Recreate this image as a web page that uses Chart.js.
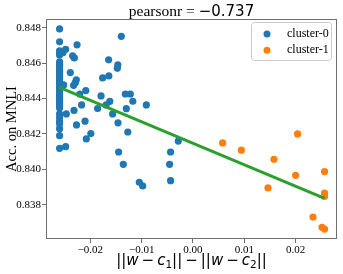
<!DOCTYPE html>
<html>
<head>
<meta charset="utf-8">
<script src="https://cdn.jsdelivr.net/npm/chart.js@4.4.1/dist/chart.umd.min.js"></script>
<style>
  body { margin: 0; background: #fff; }
  #wrap { width: 343px; height: 274px; }
</style>
</head>
<body>
<div id="wrap"><canvas id="canvas" width="343" height="274"></canvas></div>
<script>
// values
const cluster0X = [
  -0.0260, -0.0260, -0.0260, -0.0260, -0.0260, -0.0260, -0.0260, -0.0260, -0.0260, -0.0260,
  -0.0260, -0.0260, -0.0260, -0.0260, -0.0260, -0.0260, -0.0260, -0.0260, -0.0260, -0.0260,
  -0.0260, -0.0260, -0.0260, -0.0260, -0.0260, -0.0260, -0.0260, -0.0260, -0.0260, -0.0260,
  -0.0260, -0.0260, -0.0260, -0.0260, -0.0260, -0.0260, -0.0260,
  -0.02533, -0.02482, -0.02260, -0.02346, -0.02313, -0.02391, -0.01397, -0.01644, -0.01465, -0.01475,
  -0.01761, -0.01640, -0.02274, -0.02293, -0.02327, -0.02521, -0.02206, -0.02089, -0.01792, -0.01319,
  -0.01221, -0.01173, -0.00909, -0.01621, -0.01693, -0.01859, -0.02171, -0.02319, -0.01299, -0.01566,
  -0.02469, -0.02104, -0.02270, -0.01461, -0.01270, -0.01991, -0.02079, -0.02482, -0.01449, -0.01358,
  -0.01046, -0.00981, -0.00436, -0.00455, -0.00436, -0.00286
];
const cluster0Y = [
  0.84794, 0.84721, 0.84670, 0.84661, 0.84653, 0.84647, 0.84608, 0.84596, 0.84585, 0.84574,
  0.84562, 0.84551, 0.84540, 0.84528, 0.84517, 0.84506, 0.84494, 0.84483, 0.84472, 0.84460,
  0.84449, 0.84438, 0.84426, 0.84415, 0.84404, 0.84393, 0.84381, 0.84370, 0.84359, 0.84347,
  0.84313, 0.84291, 0.84270, 0.84257, 0.84230, 0.84190, 0.84119,
  0.84660, 0.84679, 0.84704, 0.84642, 0.84630, 0.84547, 0.84752, 0.84619, 0.84591, 0.84571,
  0.84517, 0.84528, 0.84506, 0.84490, 0.84475, 0.84477, 0.84426, 0.84445, 0.84415, 0.84426,
  0.84426, 0.84385, 0.84364, 0.84384, 0.84364, 0.84344, 0.84364, 0.84333, 0.84343, 0.84313,
  0.84313, 0.84272, 0.84251, 0.84263, 0.84211, 0.84202, 0.84172, 0.84128, 0.84098, 0.84028,
  0.83927, 0.83906, 0.84098, 0.84028, 0.83936, 0.84160
];
const cluster1X = [0.00578, 0.00943, 0.01580, 0.02040, 0.02001, 0.02566, 0.01463, 0.02566, 0.02566, 0.02340, 0.02516, 0.02566];
const cluster1Y = [0.84149, 0.84108, 0.84057, 0.84200, 0.83966, 0.83987, 0.83895, 0.83866, 0.83848, 0.83730, 0.83672, 0.83662];
const fitX = [-0.02605, 0.02566];
const fitY = [0.84464, 0.83836];
const xTicks = [-0.02, -0.01, 0.00, 0.01, 0.02];
const yTicks = [0.838, 0.840, 0.842, 0.844, 0.846, 0.848];
const seriesNames = ['cluster-0', 'cluster-1'];
const titleLabel = 'pearsonr = ';
const titleValue = '\u22120.737';

const blue = '#1f77b4', orange = '#ff7f0e', green = '#2ca02c';
const frameColor = '#6e6e6e';

function pts(xs, ys) {
  return xs.map((x, i) => ({ x: x, y: ys[i] }));
}
function minus(s) {
  return s.replace('-', '\u2212');
}

// title, frame, legend and the x title are drawn by hand
const extras = {
  id: 'extras',
  afterDraw(chart) {
    const ctx = chart.ctx;
    const a = chart.chartArea;
    ctx.save();

    // frame
    ctx.strokeStyle = frameColor;
    ctx.lineWidth = 1;
    ctx.strokeRect(a.left + 0.5, a.top + 0.5, a.right - a.left - 1, a.bottom - a.top - 1);

    // title
    const cx = (a.left + a.right) / 2;
    ctx.fillStyle = '#000';
    ctx.textBaseline = 'alphabetic';
    const f1 = '15.5px "Liberation Serif"', f2 = '15px "DejaVu Sans"';
    ctx.font = f1; const w1 = ctx.measureText(titleLabel).width;
    ctx.font = f2; const w2 = ctx.measureText(titleValue).width;
    let x = cx - (w1 + w2) / 2;
    ctx.font = f1; ctx.textAlign = 'left'; ctx.fillText(titleLabel, x, 16);
    ctx.font = f2; ctx.fillText(titleValue, x + w1, 16);

    // x title: ||w - c1|| - ||w - c2||
    const op = '\u2009\u2212\u2009';
    const parts = [
      ['||', 'n'], ['w', 'i'], [op, 'n'], ['c', 'i'], ['1', 's'], ['||', 'n'],
      [op, 'n'],
      ['||', 'n'], ['w', 'i'], [op, 'n'], ['c', 'i'], ['2', 's'], ['||', 'n']
    ];
    const fonts = { n: '15px "DejaVu Sans"', i: 'italic 15px "DejaVu Sans"', s: '10.5px "DejaVu Sans"' };
    let total = 0;
    parts.forEach(p => { ctx.font = fonts[p[1]]; total += ctx.measureText(p[0]).width; });
    x = cx - total / 2;
    parts.forEach(p => {
      ctx.font = fonts[p[1]];
      ctx.fillText(p[0], x, p[1] === 's' ? 268 : 265);
      x += ctx.measureText(p[0]).width;
    });

    // legend
    const lx = 251.5, ly = 22.5, lw = 80, lh = 38;
    ctx.beginPath();
    ctx.roundRect(lx, ly, lw, lh, 3);
    ctx.fillStyle = 'rgba(255,255,255,0.8)';
    ctx.fill();
    ctx.strokeStyle = '#cccccc';
    ctx.stroke();
    const colors = [blue, orange];
    seriesNames.forEach((name, i) => {
      const yy = 34 + i * 16.3;
      ctx.beginPath();
      ctx.arc(267, yy, 3.5, 0, Math.PI * 2);
      ctx.fillStyle = colors[i];
      ctx.fill();
      ctx.fillStyle = '#000';
      ctx.font = '12px "Liberation Serif"';
      ctx.textBaseline = 'middle';
      ctx.fillText(name, 287, yy);
    });
    ctx.restore();
  }
};

new Chart(document.getElementById('canvas').getContext('2d'), {
  type: 'scatter',
  data: {
    datasets: [
      {
        type: 'line',
        label: 'fit',
        data: pts(fitX, fitY),
        borderColor: green,
        borderWidth: 3,
        pointRadius: 0,
        fill: false,
        order: 0
      },
      {
        label: seriesNames[0],
        data: pts(cluster0X, cluster0Y),
        backgroundColor: blue,
        borderWidth: 0,
        pointRadius: 3.6,
        order: 2
      },
      {
        label: seriesNames[1],
        data: pts(cluster1X, cluster1Y),
        backgroundColor: orange,
        borderWidth: 0,
        pointRadius: 3.6,
        order: 1
      }
    ]
  },
  options: {
    responsive: false,
    animation: false,
    devicePixelRatio: 1,
    layout: { padding: { top: 19, right: 6, left: 0, bottom: 0 } },
    plugins: { legend: { display: false }, tooltip: { enabled: false }, title: { display: false } },
    scales: {
      x: {
        type: 'linear',
        min: -0.02865,
        max: 0.02808,
        afterBuildTicks: s => { s.ticks = xTicks.map(v => ({ value: v })); },
        afterFit: s => { s.height = 35; },
        border: { display: false },
        grid: { drawOnChartArea: false, drawTicks: true, tickLength: 4, color: frameColor },
        ticks: {
          color: '#000',
          padding: 1,
          maxRotation: 0,
          font: { family: 'Liberation Serif', size: 11 },
          callback: v => minus(v.toFixed(2))
        }
      },
      y: {
        type: 'linear',
        min: 0.83606,
        max: 0.8485,
        afterBuildTicks: s => { s.ticks = yTicks.map(v => ({ value: v })); },
        afterFit: s => { s.width = 46; },
        border: { display: false },
        grid: { drawOnChartArea: false, drawTicks: true, tickLength: 4, color: frameColor },
        title: {
          display: true,
          text: 'Acc. on MNLI',
          color: '#000',
          padding: { top: 3, bottom: 0 },
          font: { family: 'Liberation Serif', size: 14.5 }
        },
        ticks: {
          color: '#000',
          padding: 1,
          font: { family: 'Liberation Serif', size: 11 },
          callback: v => v.toFixed(3)
        }
      }
    }
  },
  plugins: [extras]
});
</script>
</body>
</html>
